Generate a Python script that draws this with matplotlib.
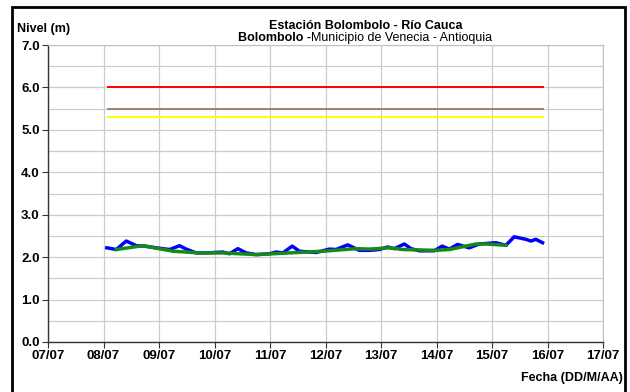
import numpy as np
import matplotlib
matplotlib.use("Agg")
import matplotlib.pyplot as plt
from matplotlib.patches import Rectangle

plt.rcParams['font.family'] = ['Liberation Sans', 'DejaVu Sans']

# dias (07/07 = 7) y nivel medido (m)
dias_nivel = [8.06, 8.23, 8.41, 8.59, 8.74, 8.95, 9.19, 9.37, 9.49, 9.67, 9.85,
              10.15, 10.27, 10.42, 10.57, 10.75, 10.99, 11.11, 11.23, 11.40, 11.53,
              11.83, 12.07, 12.19, 12.40, 12.61, 12.79, 12.97, 13.12, 13.24, 13.42,
              13.54, 13.69, 13.96, 14.10, 14.23, 14.38, 14.59, 14.77, 15.07, 15.25,
              15.40, 15.61, 15.70, 15.79, 15.91]
nivel = [2.22, 2.18, 2.38, 2.27, 2.26, 2.22, 2.18, 2.27, 2.19, 2.10, 2.10,
         2.12, 2.08, 2.20, 2.10, 2.06, 2.08, 2.12, 2.10, 2.26, 2.14,
         2.11, 2.19, 2.18, 2.29, 2.16, 2.16, 2.18, 2.24, 2.20, 2.31,
         2.20, 2.15, 2.15, 2.26, 2.19, 2.30, 2.22, 2.31, 2.34, 2.28,
         2.48, 2.42, 2.38, 2.42, 2.34]

# serie suavizada
dias_suav = [8.23, 8.71, 9.25, 9.73, 10.15, 10.75, 11.35, 11.95, 12.55, 12.79,
             13.15, 13.39, 13.99, 14.23, 14.71, 14.89, 15.25]
nivel_suav = [2.18, 2.27, 2.14, 2.10, 2.10, 2.06, 2.10, 2.14, 2.20, 2.19,
              2.22, 2.18, 2.16, 2.18, 2.31, 2.31, 2.28]

# niveles de referencia
ref_inicio, ref_fin = 8.08, 15.92
ref_niveles = [6.0, 5.5, 5.3]
ref_colores = ['#ff0000', '#a08060', '#ffff00']

etiquetas_x = ['07/07', '08/07', '09/07', '10/07', '11/07', '12/07',
               '13/07', '14/07', '15/07', '16/07', '17/07']

fig = plt.figure(figsize=(6.3, 3.92), dpi=100)
ax = fig.add_axes([0.0762, 0.1276, 0.881, 0.7574])

for y, c in zip(ref_niveles, ref_colores):
    ax.plot([ref_inicio, ref_fin], [y, y], color=c, lw=1.4, zorder=3)

ax.plot(dias_nivel, nivel, color='#0000ff', lw=2.5, zorder=4)
ax.plot(dias_suav, nivel_suav, color='#168a16', lw=2.5, zorder=5)

ax.set_xlim(7, 17)
ax.set_ylim(0, 7)
ax.set_xticks(np.arange(7, 18))
ax.set_xticklabels(etiquetas_x, fontsize=9.5, fontweight='bold')
ax.set_yticks(np.arange(0, 8))
ax.set_yticklabels(['%.1f' % v for v in range(8)], fontsize=9.5, fontweight='bold')
ax.set_yticks(np.arange(0, 7.5, 0.5), minor=True)
ax.grid(True, which='both', color='#cccccc', lw=0.9)
ax.set_axisbelow(True)
ax.tick_params(axis='both', which='major', direction='out', length=4, width=0.8,
               color='#333333', pad=2)
ax.tick_params(axis='y', which='minor', length=0)

for s in ['top', 'right']:
    ax.spines[s].set_color('#c0c0c0')
for s in ['left', 'bottom']:
    ax.spines[s].set_color('#333333')
    ax.spines[s].set_linewidth(1.0)

# textos
fig.text(0.027, 0.925, 'Nivel (m)', fontsize=9, fontweight='bold', ha='left', va='center')
fig.text(0.581, 0.934, 'Estación Bolombolo - Río Cauca', fontsize=9,
         fontweight='bold', ha='center', va='center')
t1 = fig.text(0.378, 0.902, 'Bolombolo -', fontsize=9, fontweight='bold',
              ha='left', va='center')
fig.canvas.draw()
bb = t1.get_window_extent()
x2 = bb.x1 / fig.bbox.width
fig.text(x2, 0.902, 'Municipio de Venecia - Antioquia', fontsize=9,
         ha='left', va='center')
fig.text(0.988, 0.036, 'Fecha (DD/M/AA)', fontsize=9, fontweight='bold',
         ha='right', va='center')

# marco exterior
fig.patches.append(Rectangle((0.019, -0.01), 0.973, 0.992, transform=fig.transFigure,
                             fill=False, edgecolor='black', lw=2.0, zorder=0))

fig.savefig('out.png', dpi=100)
